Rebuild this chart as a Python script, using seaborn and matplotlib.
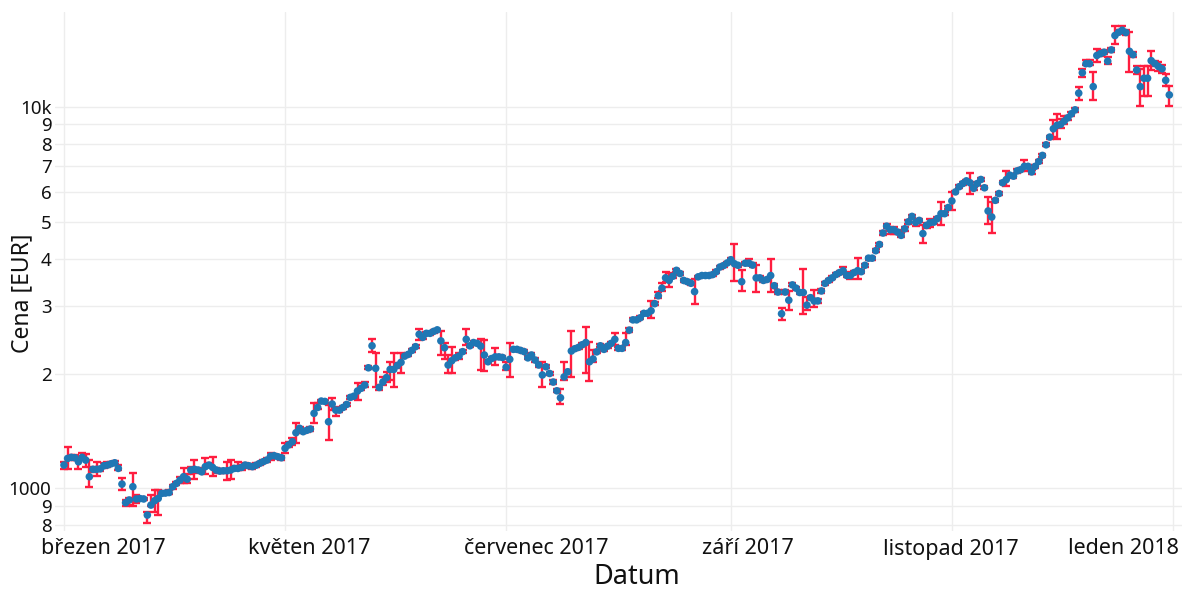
import numpy as np
import pandas as pd
import matplotlib
matplotlib.use("Agg")
import matplotlib.pyplot as plt
import seaborn as sns

# ---------------- data (daily, 1 Mar 2017 - 31 Dec 2017) ----------------
start_date = "2017-03-01"

close = [
    # March
    1151, 1198, 1206, 1203, 1174, 1206, 1186, 1073, 1122, 1122, 1125, 1146, 1151, 1160, 1167, 1128,
    1026, 917, 932, 1010, 938, 940, 938, 851, 904, 928, 941, 970, 972, 975, 1010,
    # April
    1030, 1051, 1073, 1057, 1117, 1122, 1117, 1105, 1140, 1151, 1135, 1117, 1110, 1112, 1112,
    1117, 1128, 1128, 1135, 1151, 1146, 1140, 1150, 1163, 1175, 1186, 1215, 1218, 1210, 1203,
    # May
    1273, 1300, 1325, 1399, 1437, 1408, 1420, 1431, 1573, 1630, 1694, 1690, 1495, 1664, 1604, 1604,
    1630, 1660, 1732, 1745, 1800, 1830, 1866, 2071, 2365, 2064, 1839, 1900, 1952, 2051, 2051,
    # June
    2100, 2140, 2222, 2246, 2300, 2353, 2535, 2489, 2550, 2550, 2580, 2604, 2436, 2338, 2106,
    2161, 2200, 2222, 2283, 2459, 2365, 2412, 2400, 2360, 2237, 2148, 2190, 2212, 2212, 2204,
    # July
    2078, 2180, 2315, 2315, 2300, 2283, 2199, 2237, 2170, 2106, 1983, 2084, 2001, 1900, 1802, 1728,
    1960, 2022, 2292, 2324, 2343, 2380, 2412, 2148, 2184, 2280, 2365, 2315, 2360, 2400, 2459,
    # August
    2329, 2329, 2412, 2600, 2766, 2766, 2800, 2877, 2877, 2922, 3050, 3200, 3350, 3565, 3510, 3600,
    3730, 3660, 3510, 3483, 3450, 3280, 3587, 3615, 3615, 3615, 3636, 3700, 3806, 3840, 3900,
    # September
    3977, 3882, 3846, 3483, 3895, 3895, 3850, 3564, 3564, 3510, 3530, 3615, 3400, 3272, 2870,
    3272, 3115, 3416, 3350, 3263, 3263, 3024, 3163, 3100, 3102, 3294, 3448, 3510, 3564, 3636,
    # October
    3680, 3722, 3615, 3615, 3680, 3722, 3700, 3846, 4015, 4015, 4200, 4361, 4673, 4870, 4766, 4766,
    4700, 4608, 4795, 5000, 5166, 4983, 5043, 4657, 4891, 4975, 4991, 5100, 5252, 5252, 5450,
    # November
    5671, 5990, 6180, 6300, 6403, 6330, 6121, 6300, 6456, 6140, 5338, 5148, 5693, 5930, 6330,
    6450, 6626, 6588, 6800, 6850, 6990, 6990, 6758, 6990, 7200, 7466, 7960, 8340, 8769, 8950,
    # December
    9000, 9180, 9370, 9600, 9830, 10875, 12300, 12990, 12990, 11310, 13650, 13800, 13920, 13190, 14120,
    15400, 15700, 15900, 15680, 14000, 13720, 12500, 11310, 11900, 11900, 13230, 13000, 12780, 12600,
    11750, 10760,
]

high = [
    # March
    1174, 1285, 1225, 1222, 1206, 1240, 1230, 1186, 1140, 1170, 1140, 1165, 1170, 1175, 1178, 1150,
    1062, 932, 945, 1099, 960, 950, 945, 868, 960, 990, 990, 980, 985, 988, 1022,
    # April
    1042, 1073, 1128, 1090, 1140, 1190, 1130, 1120, 1198, 1165, 1210, 1132, 1122, 1125, 1174,
    1190, 1142, 1174, 1150, 1162, 1156, 1160, 1162, 1175, 1188, 1200, 1240, 1232, 1225, 1215,
    # May
    1312, 1320, 1353, 1486, 1452, 1425, 1435, 1450, 1670, 1670, 1710, 1705, 1655, 1728, 1637, 1620,
    1645, 1675, 1745, 1760, 1886, 1850, 1895, 2095, 2459, 2262, 1866, 1960, 2022, 2148, 2262,
    # June
    2130, 2270, 2240, 2265, 2320, 2375, 2615, 2510, 2570, 2570, 2600, 2625, 2580, 2400, 2237,
    2353, 2230, 2260, 2300, 2615, 2385, 2430, 2420, 2459, 2445, 2170, 2210, 2330, 2235, 2225,
    # July
    2148, 2400, 2335, 2340, 2320, 2300, 2220, 2260, 2195, 2130, 2148, 2105, 2020, 1925, 1820, 1817,
    2148, 2045, 2580, 2345, 2365, 2400, 2655, 2420, 2300, 2300, 2385, 2335, 2380, 2420, 2550,
    # August
    2345, 2350, 2550, 2630, 2790, 2790, 2830, 2905, 2905, 3100, 3080, 3280, 3450, 3700, 3660, 3630,
    3760, 3690, 3540, 3510, 3480, 3530, 3610, 3635, 3635, 3640, 3660, 3730, 3840, 3870, 3930,
    # September
    4010, 4370, 3880, 3730, 3930, 3990, 3890, 3850, 3600, 3540, 3560, 3990, 3440, 3310, 2970,
    3305, 3300, 3450, 3380, 3295, 3760, 3180, 3200, 3310, 3140, 3330, 3480, 3545, 3600, 3670,
    # October
    3710, 3800, 3650, 3700, 3710, 4015, 3740, 3880, 4050, 4050, 4240, 4400, 4720, 4920, 4850, 4850,
    4750, 4660, 4850, 5060, 5210, 5100, 5100, 4900, 4950, 5100, 5040, 5150, 5640, 5300, 5500,
    # November
    5990, 6040, 6230, 6350, 6450, 6730, 6170, 6350, 6510, 6190, 5800, 5640, 5750, 5990, 6390,
    6800, 6690, 6650, 6870, 6920, 7250, 7060, 6830, 7060, 7270, 7540, 8040, 8420, 9220, 9600,
    # December
    9300, 9500, 9480, 9700, 9940, 11310, 12600, 13250, 13250, 12330, 14230, 14000, 14100, 13500, 14300,
    16300, 15900, 16300, 15900, 15750, 13900, 12800, 12600, 12800, 12800, 14050, 13200, 13100, 12900,
    12200, 11350,
]

low = [
    # March
    1122, 1122, 1190, 1188, 1122, 1190, 1140, 1010, 1105, 1075, 1110, 1130, 1140, 1150, 1158, 1115,
    990, 900, 905, 900, 915, 930, 930, 812, 900, 868, 851, 962, 965, 968, 995,
    # April
    1018, 1030, 1030, 1030, 1090, 1060, 1100, 1095, 1090, 1135, 1075, 1100, 1096, 1100, 1051,
    1060, 1115, 1115, 1120, 1140, 1130, 1125, 1140, 1150, 1165, 1175, 1190, 1205, 1198, 1190,
    # May
    1235, 1280, 1299, 1312, 1420, 1395, 1405, 1418, 1480, 1610, 1680, 1675, 1339, 1604, 1548, 1590,
    1615, 1645, 1720, 1730, 1705, 1810, 1840, 2050, 2283, 1849, 1810, 1870, 1904, 1925, 1839,
    # June
    2070, 2010, 2205, 2230, 2285, 2335, 2445, 2470, 2530, 2530, 2560, 2585, 2237, 2190, 2001,
    2001, 2170, 2190, 2265, 2375, 2345, 2395, 2380, 2042, 2035, 2130, 2170, 2100, 2190, 2185,
    # July
    2042, 1960, 2295, 2290, 2280, 2265, 2180, 2215, 2150, 2085, 1839, 2065, 1985, 1880, 1785, 1664,
    1925, 2000, 1960, 2305, 2325, 2360, 2001, 1915, 2150, 2260, 2345, 2295, 2340, 2380, 2375,
    # August
    2310, 2305, 2375, 2570, 2740, 2740, 2775, 2850, 2850, 2800, 3020, 3150, 3300, 3480, 3380, 3570,
    3700, 3630, 3480, 3455, 3420, 3036, 3565, 3595, 3595, 3590, 3610, 3670, 3770, 3810, 3870,
    # September
    3940, 3505, 3810, 3300, 3860, 3860, 3810, 3270, 3530, 3480, 3500, 3270, 3360, 3240, 2766,
    3240, 2930, 3385, 3320, 3235, 2860, 2930, 3130, 2990, 3070, 3260, 3415, 3480, 3530, 3600,
    # October
    3650, 3650, 3580, 3540, 3650, 3530, 3660, 3810, 3980, 3980, 4160, 4320, 4630, 4820, 4650, 4650,
    4650, 4560, 4740, 4940, 5120, 4870, 4990, 4390, 4830, 4850, 4940, 5050, 4900, 5200, 5400,
    # November
    5360, 5940, 6130, 6250, 6360, 5930, 6070, 6250, 6400, 6090, 4940, 4670, 5640, 5870, 6270,
    6200, 6560, 6520, 6730, 6780, 6800, 6920, 6690, 6920, 7130, 7390, 7880, 8260, 8340, 8260,
    # December
    8800, 9000, 9260, 9500, 9720, 10440, 12000, 12870, 12870, 10410, 13100, 13600, 13750, 12950, 13950,
    14650, 15500, 15700, 15450, 12330, 13500, 12200, 10060, 10690, 10690, 12470, 12800, 12400, 12300,
    11350, 10060,
]

y_ticks = [800, 900, 1000, 2000, 3000, 4000, 5000, 6000, 7000, 8000, 9000, 10000]
y_tick_labels = ["8", "9", "1000", "2", "3", "4", "5", "6", "7", "8", "9", "10k"]
x_grid_dates = ["2017-03-01", "2017-05-01", "2017-07-01", "2017-09-01", "2017-11-01", "2018-01-01"]
x_tick_labels = ["březen 2017", "květen 2017", "červenec 2017", "září 2017", "listopad 2017", "leden 2018"]

# ---------------- figure ----------------
W, H = 1197, 594
sns.set_theme(style="white")
plt.rcParams["font.family"] = ["Noto Sans", "DejaVu Sans"]

dates = pd.date_range(start_date, periods=len(close), freq="D")
df = pd.DataFrame({"Datum": dates, "Cena": close, "high": high, "low": low})

fig = plt.figure(figsize=(W / 100, H / 100), dpi=100)
left, right, top, bottom = 55, 1182, 12, 531
ax = fig.add_axes([left / W, 1 - bottom / H, (right - left) / W, (bottom - top) / H])
ax.set_yscale("log")

yerr = np.vstack([df["Cena"] - df["low"], df["high"] - df["Cena"]])
ax.errorbar(df["Datum"], df["Cena"], yerr=yerr, fmt="none", ecolor="#ff1d3f",
            elinewidth=1.7, capsize=3.0, capthick=1.7, zorder=2)
sns.scatterplot(data=df, x="Datum", y="Cena", ax=ax, color="#1f77b4", s=30,
                edgecolor="none", linewidth=0, zorder=3, legend=False)

t0 = pd.Timestamp(start_date)
ax.set_xlim(t0 - pd.Timedelta(days=2.48), t0 + pd.Timedelta(days=308.5))
ax.set_ylim(773, 17750)

ax.yaxis.set_major_locator(matplotlib.ticker.FixedLocator(y_ticks))
ax.yaxis.set_minor_locator(matplotlib.ticker.NullLocator())
ax.set_yticklabels(y_tick_labels)
ax.set_xticks(pd.to_datetime(x_grid_dates))
ax.set_xticklabels([""] * len(x_grid_dates))
ax.tick_params(axis="both", length=0)
ax.tick_params(axis="y", pad=2.5, labelsize=13.5, labelcolor="#111111")
ax.grid(True, color="#ededed", linewidth=1.0, zorder=0)
ax.set_axisbelow(True)
for s in ax.spines.values():
    s.set_visible(False)
ax.set_xlabel("")
ax.set_ylabel("")

# x tick labels (placed as in the reference)
label_px = [103, 309, 536, 748, 951, 1123]
for px, lab in zip(label_px, x_tick_labels):
    fig.text(px / W, 1 - 549 / H, lab, ha="center", va="center", fontsize=15.5, color="#111111")

fig.text(637 / W, 1 - 577 / H, "Datum", ha="center", va="center", fontsize=19.5, color="#111111")
fig.text(22 / W, 1 - 293 / H, "Cena [EUR]", ha="center", va="center", rotation=90,
         fontsize=16.5, color="#111111")

fig.savefig("out.png", dpi=100, facecolor="white")
